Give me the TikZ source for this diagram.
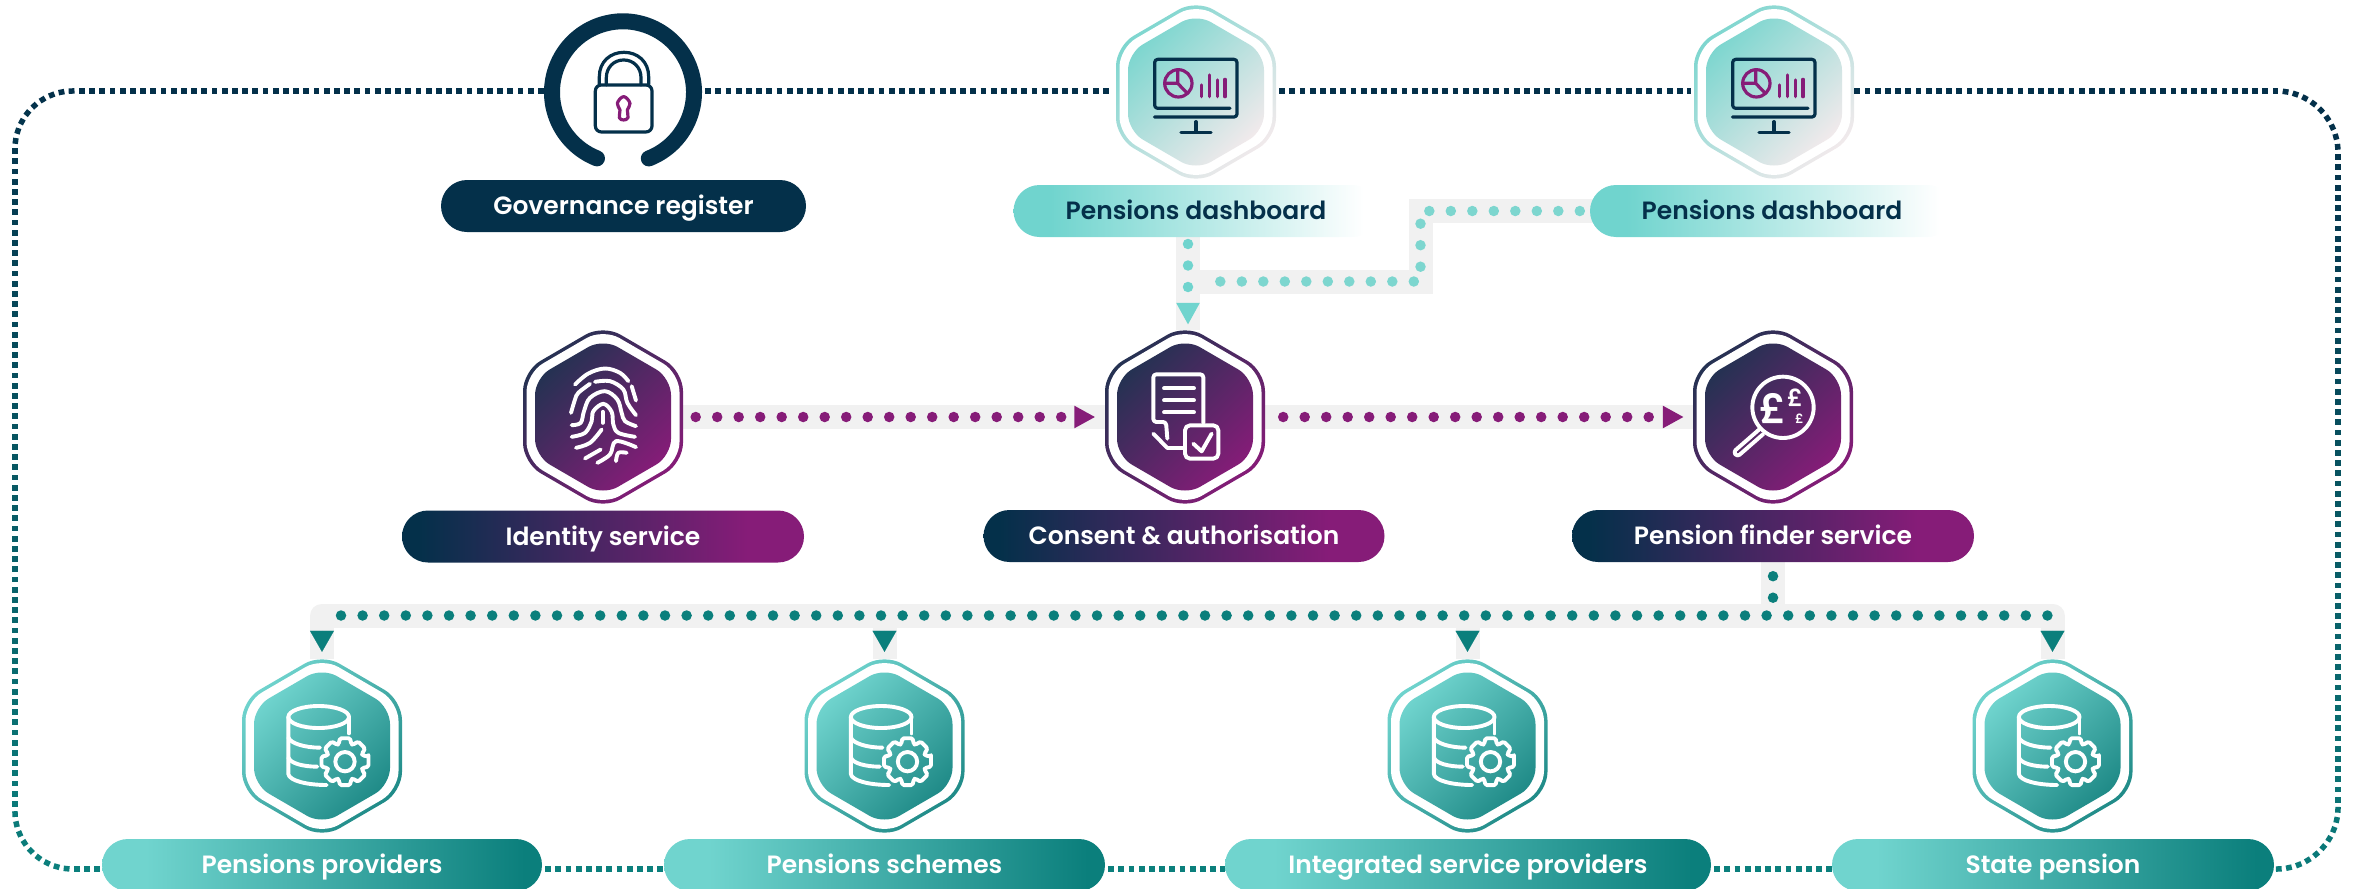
\documentclass[tikz,border=0pt]{standalone}
\usepackage{fontspec}
\setmainfont{Poppins}[BoldFont={Poppins SemiBold}]
\usetikzlibrary{arrows.meta,shapes.misc,decorations.markings,backgrounds}
\definecolor{navyline}{HTML}{04304A}
\definecolor{tealpale}{HTML}{70D4CE}
\definecolor{tealdeep}{HTML}{0B7F7C}
\definecolor{tealdash}{HTML}{7DD6CF}
\definecolor{greydash}{HTML}{F2EAEC}
\definecolor{purplemid}{HTML}{861C78}
\definecolor{purpledark}{HTML}{243252}
\definecolor{tealhexa}{HTML}{70D4CE}
\definecolor{tealhexb}{HTML}{1F8A87}
\definecolor{bandgrey}{HTML}{F1F1F1}
\pgfdeclarehorizontalshading{pillpurple}{100bp}{color(0bp)=(navyline); color(27bp)=(navyline); color(68bp)=(purplemid); color(100bp)=(purplemid)}
\pgfdeclarehorizontalshading{pillteal}{100bp}{color(0bp)=(tealpale); color(30bp)=(tealpale); color(73bp)=(tealdeep); color(100bp)=(tealdeep)}
\pgfdeclarehorizontalshading{pillfade}{100bp}{color(0bp)=(tealpale); color(30bp)=(tealpale); color(73bp)=(white); color(100bp)=(white)}
\tikzset{
  pillbase/.style={rounded rectangle,minimum height=52pt,inner sep=0pt,font=\fontsize{25}{28}\selectfont\bfseries,text=white,text height=22pt,text depth=5pt},
  pillnavy/.style={pillbase,fill=navyline},
  pillgrad/.style={pillbase,shade,shading=pillpurple},
  pillcool/.style={pillbase,shade,shading=pillteal},
  pillpale/.style={pillbase,shade,shading=pillfade,text=navyline},
  hexnode/.style={rectangle,minimum width=160pt,minimum height=174pt,inner sep=0pt},
  iconline/.style={draw=white,line width=3.9pt,line cap=round,line join=round},
  darkicon/.style={draw=navyline,line width=3.2pt,line cap=round,line join=round},
  plumicon/.style={draw=purplemid,line width=3.2pt,line cap=round,line join=round},
  band/.style={draw=bandgrey,line width=24pt},
  dotline/.style={line width=10.5pt,line cap=round,dash pattern=on 0pt off #1},
  dotline/.default=21.5pt,
  tealtip/.style={-{Triangle[width=24pt,length=21pt]},draw=tealdeep,fill=tealdeep,line width=.1pt,shorten >=7pt},
  framedash/.style={line width=5.5pt,dash pattern=on 5.8pt off 4.4pt},
  framemarks/.style={decoration={markings,mark=between positions 3pt and -3pt step 10.2pt with {
      \pgfmathtruncatemacro\framemix{min(100,max(0,(1290-\pgfkeysvalueof{/pgf/decoration/mark info/distance from start})/8))}
      \fill[navyline!\framemix!tealdeep,sharp corners] (-2.9pt,-2.75pt) rectangle (2.9pt,2.75pt);}},decorate},
  monitoricon/.pic={
    \begin{scope}[x=.3333pt,y=-.3333pt,shift={(-273,-276)}]
      \draw[darkicon,rounded corners=3pt] (375,325) -- (149,325) -- (149,178) -- (396,178) -- (396,351) -- (148,351);
      \draw[darkicon] (273,365) -- (273,397) (228,397) -- (318,397);
      \draw[plumicon] (220,250) circle[radius=41];
      \draw[plumicon] (218,210) -- (218,250) -- (180,250) (218,250) -- (247,280);
      \foreach \barx/\bartop in {290/255,314/225,337/240,360/238}
        \draw[plumicon] (\barx,\bartop) -- (\barx,290);
    \end{scope}},
  lockicon/.pic={
    \begin{scope}[x=.3333pt,y=-.3333pt,shift={(-278,-262)}]
      \draw[darkicon,rounded corners=6pt] (195,240) rectangle (365,381);
      \draw[darkicon] (207,238) -- (207,215) .. controls (207,170) and (240,142) .. (281,142) .. controls (322,142) and (355,170) .. (355,215) -- (355,238);
      \draw[darkicon] (228,240) -- (228,218) .. controls (228,188) and (250,165) .. (280,165) .. controls (310,165) and (332,188) .. (332,218) -- (332,240);
      \draw[plumicon] plot[smooth cycle,tension=.7] coordinates {(280,275) (299,295) (291,315) (293,338) (280,345) (267,338) (269,315) (261,295)};
    \end{scope}},
  storeicon/.pic={
    \begin{scope}[x=.3333pt,y=-.3333pt,shift={(-276,-288)}]
      \draw[iconline] (266,201) ellipse[x radius=91,y radius=33];
      \draw[iconline] (357,201) -- (357,250);
      \draw[iconline] (175,201) -- (175,372) .. controls (178,392) and (230,405) .. (290,405);
      \draw[iconline] (175,262) .. controls (180,280) and (225,293) .. (270,293);
      \draw[iconline] (175,322) .. controls (180,340) and (220,350) .. (262,350);
      \begin{scope}[shift={(345,335)}]
        \draw[iconline,rounded corners=1.5pt] (-12:72) \foreach \toothangle in {0,45,...,315} {-- (\toothangle-12:72) -- (\toothangle+12:72) -- (\toothangle+20:56) -- (\toothangle+25:56)} -- cycle;
        \draw[iconline] (0,0) circle[radius=29];
      \end{scope}
    \end{scope}},
  printicon/.pic={
    \begin{scope}[x=.3333pt,y=-.3333pt,shift={(-279,-277.5)}]
      \foreach \ridge in {
        {(183,265) (195,225) (205,205) (240,178)},
        {(195,180) (235,147) (285,132) (330,145) (355,170)},
        {(255,172) (300,170) (340,195) (352,235) (378,272)},
        {(365,185) (378,228)},
        {(185,302) (212,295) (222,260) (240,220) (285,200) (322,225) (335,265) (345,290) (378,305)},
        {(185,337) (225,325) (245,290) (250,260) (280,238) (305,262) (310,300) (325,325) (375,337)},
        {(278,262) (278,295)},
        {(198,370) (240,355) (275,315)},
        {(225,402) (272,375)},
        {(262,415) (300,390) (318,350) (378,368)},
        {(318,410) (325,385) (350,385)}}
        \draw[iconline] plot[smooth,tension=.6] coordinates \ridge;
    \end{scope}},
  consenticon/.pic={
    \begin{scope}[x=.3333pt,y=-.3333pt,shift={(-285,-290)}]
      \draw[iconline,rounded corners=3pt] (340,308) -- (340,162) -- (190,162) -- (190,305) -- (228,305) -- (232,355);
      \draw[iconline] (190,340) -- (232,383) -- (280,383);
      \foreach \liney in {204,240,276}
        \draw[iconline] (222,\liney) -- (312,\liney);
      \draw[iconline,rounded corners=5pt] (285,315) rectangle (385,415);
      \draw[iconline] (310,370) -- (335,393) -- (365,340);
    \end{scope}},
  findericon/.pic={
    \begin{scope}[x=.3333pt,y=-.3333pt,shift={(-279,-291)}]
      \draw[iconline] (309,262) circle[radius=92];
      \draw[iconline,rounded corners=3pt] (238,328) -- (160,396) -- (172,410) -- (250,342);
      \node (pound_big) at (278,265) [font=\fontsize{41}{41}\selectfont\bfseries,text=white,inner sep=0pt] {£};
      \node (pound_mid) at (345,232) [font=\fontsize{24}{24}\selectfont\bfseries,text=white,inner sep=0pt] {£};
      \node (pound_small) at (358,297) [font=\fontsize{13}{13}\selectfont\bfseries,text=white,inner sep=0pt] {£};
    \end{scope}},
}
% rounded hexagon outline, half width / apex / shoulder
\newcommand{\hexpath}[3]{(0,#2) -- (#1,#3) -- (#1,-#3) -- (0,-#2) -- (-#1,-#3) -- (-#1,#3) -- cycle}
\newcommand{\hexbadge}[4]{%
  \node (#1) at (#2) [hexnode] {};
  \begin{scope}[shift={(#1.center)}]
    \shade[top color=#3,bottom color=#4,shading angle=45,rounded corners=20pt] \hexpath{80}{92.5}{46};
    \fill[white,rounded corners=19pt] \hexpath{76.5}{88.5}{44};
    \shade[top color=#3,bottom color=#4,shading angle=45,rounded corners=17pt] \hexpath{68}{78.5}{39};
  \end{scope}}
\begin{document}
\begin{tikzpicture}[x=1pt,y=1pt,>=latex]
\useasboundingbox (0,0) rectangle (2354,-889);
%%
\coordinate (frametop) at (0,-91);
\coordinate (framebottom) at (0,-869);
\coordinate (treeline) at (0,-615.5);
\coordinate (tiptop) at (0,-631);
\coordinate (dash_stub) at (1188,-237);
\coordinate (dash_elbow_a) at (1420.5,-211);
\coordinate (dash_elbow_b) at (1420.5,-281.5);
%
\node (node_lock) at (623,-92.3) [circle,minimum size=158pt,inner sep=0pt] {};
\draw [navyline,line width=16pt,line cap=round] (node_lock.center) ++(-68.7:71) arc (-68.7:248.5:71);
\pic at (node_lock.center) {lockicon};
\node (pill_governance) at (623.5,-206) [pillnavy,minimum width=365pt] {Governance register};
%
\hexbadge{hex_dash_a}{1196,-92}{tealdash}{greydash}
\hexbadge{hex_dash_b}{1774,-92}{tealdash}{greydash}
\pic at (hex_dash_a.center) {monitoricon};
\pic at (hex_dash_b.center) {monitoricon};
\node (pill_dash_a) at (1196,-211) [pillpale,minimum width=365pt] {Pensions dashboard};
\node (pill_dash_b) at (1772,-211) [pillpale,minimum width=364pt] {Pensions dashboard};
%
\hexbadge{hex_identity}{603,-417}{purpledark}{purplemid}
\hexbadge{hex_consent}{1185,-417}{purpledark}{purplemid}
\hexbadge{hex_finder}{1773,-417}{purpledark}{purplemid}
\pic at (hex_identity.center) {printicon};
\pic at (hex_consent.center) {consenticon};
\pic at (hex_finder.center) {findericon};
\node (pill_identity) at (603,-536.5) [pillgrad,minimum width=402pt] {Identity service};
\node (pill_consent) at (1184,-536) [pillgrad,minimum width=401pt] {Consent \& authorisation};
\node (pill_finder) at (1773,-536) [pillgrad,minimum width=402pt] {Pension finder service};
%
\hexbadge{hex_providers}{322,-746}{tealhexa}{tealhexb}
\hexbadge{hex_schemes}{884.5,-746}{tealhexa}{tealhexb}
\hexbadge{hex_integrated}{1467.5,-746}{tealhexa}{tealhexb}
\hexbadge{hex_state}{2052.5,-746}{tealhexa}{tealhexb}
\foreach \hexname in {hex_providers,hex_schemes,hex_integrated,hex_state}
  \pic at (\hexname.center) {storeicon};
\node (pill_providers) at (322,-865) [pillcool,minimum width=440pt] {Pensions providers};
\node (pill_schemes) at (884.5,-865) [pillcool,minimum width=441pt] {Pensions schemes};
\node (pill_integrated) at (1468,-865) [pillcool,minimum width=486pt] {Integrated service providers};
\node (pill_state) at (2053,-865) [pillcool,minimum width=442pt] {State pension};
%% grey bands under everything
\begin{scope}[on background layer]
  \draw [band] (dash_stub) -- (dash_stub |- hex_consent.north);
  \draw [band,shorten <=-8pt] (pill_dash_b.west) -- (dash_elbow_a) -- (dash_elbow_b) -- (dash_elbow_b -| dash_stub);
  \draw [band] (hex_identity.east) -- (hex_consent.west);
  \draw [band] (hex_consent.east) -- (hex_finder.west);
  \draw [band] (pill_finder.south) -- (pill_finder.south |- treeline);
  \draw [band,line join=round] (hex_providers.north) -- (hex_providers.north |- treeline) -- (hex_state.north |- treeline) -- (hex_state.north);
  \draw [band] (hex_schemes.north |- treeline) -- (hex_schemes.north);
  \draw [band] (hex_integrated.north |- treeline) -- (hex_integrated.north);
\end{scope}
%% dotted connectors
\draw [tealdash,dotline,shorten <=10pt,shorten >=30pt] (pill_dash_b.west) -- (dash_elbow_a) -- (dash_elbow_b) -- (dash_elbow_b -| dash_stub);
\draw [tealpale,dotline,shorten <=7pt,shorten >=5pt,-{Triangle[width=22pt,length=22pt]}] (dash_stub) -- (dash_stub |- hex_consent.north);
\draw [purplemid,dotline,shorten <=12.5pt,shorten >=9.5pt,-{Triangle[width=21pt,length=21pt]}] (hex_identity.east) -- (hex_consent.west);
\draw [purplemid,dotline,shorten <=18pt,shorten >=9pt,-{Triangle[width=21pt,length=21pt]}] (hex_consent.east) -- (hex_finder.west);
\draw [tealdeep,dotline,shorten <=14pt] (pill_finder.south) -- (pill_finder.south |- treeline);
\draw [tealdeep,dotline=21.6pt,shorten <=19pt] (hex_providers.north |- treeline) -- (hex_state.north |- treeline);
\foreach \hexname in {hex_providers,hex_schemes,hex_integrated,hex_state}
  \draw [tealtip] (\hexname.north |- tiptop) -- (\hexname.north);
%% outer frame
\path [rounded corners=58pt,postaction={framemarks}] (node_lock.west |- frametop) -- (15,-91) -- (15,-869) -- (pill_providers.west |- framebottom);
\path [rounded corners=62pt,postaction={framemarks}] (hex_dash_b.east |- frametop) -- (2338,-91) -- (2338,-869) -- (pill_state.east |- framebottom);
\draw [navyline,framedash,shorten <=3pt,shorten >=3pt] (node_lock.east |- frametop) -- (hex_dash_a.west |- frametop);
\draw [navyline,framedash,shorten <=3pt,shorten >=3pt] (hex_dash_a.east |- frametop) -- (hex_dash_b.west |- frametop);
\draw [tealdeep,framedash,shorten <=3pt] (pill_providers.east |- framebottom) -- (pill_schemes.west |- framebottom);
\draw [tealdeep,framedash,shorten <=3pt] (pill_schemes.east |- framebottom) -- (pill_integrated.west |- framebottom);
\draw [tealdeep,framedash,shorten <=3pt] (pill_integrated.east |- framebottom) -- (pill_state.west |- framebottom);
%
\end{tikzpicture}
\end{document}
